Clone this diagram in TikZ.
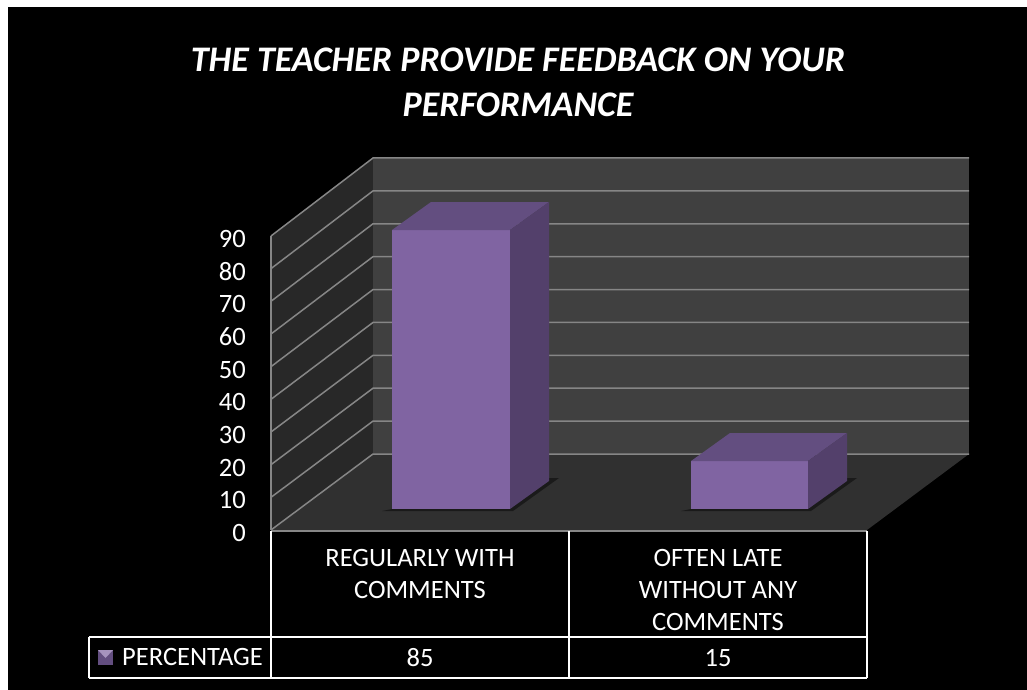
\documentclass[tikz,border=0pt]{standalone}
\usepackage{fontspec}
\setmainfont{Carlito}
\usepackage{tikz}
\usetikzlibrary{calc,positioning}

\definecolor{barfront}{HTML}{8064A2}
\definecolor{bartop}{HTML}{634E80}
\definecolor{barside}{HTML}{53406B}
\definecolor{backwall}{HTML}{404040}
\definecolor{sidewall}{HTML}{282828}
\definecolor{floorcol}{HTML}{303030}
\definecolor{gridcol}{HTML}{868686}

% one 3d column: left, right, top, bottom (pixel units)
\newcommand{\columnbox}[4]{%
	\fill[black,opacity=.45] ({#1-10},{#4+2}) -- ({#2+3},{#4+2}) -- ++(46,-33) -- ++(-12,0) -- cycle;
	\fill[barfront] (#1,#4) rectangle (#2,#3);
	\fill[bartop] (#1,#3) -- ++(39,-28) -- ++({#2-#1},0) -- (#2,#3) -- cycle;
	\fill[barside] (#2,#3) -- ++(39,-28) -- ({#2+39},{#4-28}) -- (#2,#4) -- cycle;
}

\begin{document}
\begin{tikzpicture}[x=1pt,y=-1pt,
		lbl/.style={text=white,inner sep=0pt,font=\fontsize{26.5}{32}\selectfont},
		ttl/.style={text=white,inner sep=0pt,font=\fontsize{36}{45}\selectfont\bfseries\itshape},
		gridline/.style={draw=gridcol,line width=1.5pt},
		cell/.style={draw=white,line width=2pt}]
		\useasboundingbox (0,0) rectangle (1027,690);
		\fill[white] (0,0) rectangle (1027,690);
		\fill[black] (8,7) rectangle (1027,690);
		% walls and floor
		\fill[sidewall] (271,530) -- (271,236) -- (373,158) -- (373,454) -- cycle;
		\fill[backwall] (373,454) rectangle (969,158);
		\fill[floorcol] (271,530) -- (373,454) -- (969,454) -- (867,530) -- cycle;
		\foreach \v [evaluate=\v as \t using int(10*\v)] in {0,...,9} {
			\draw[gridline] (271,{530-32.67*\v}) -- (373,{454-32.89*\v}) -- (969,{454-32.89*\v});
			\node(y\v) [lbl,anchor=east] at (246,{533-32.67*\v}) {\t};
		}
		\draw[gridline] (271,236) -- (271,530);
		\draw[gridline] (271,531) -- (867,531);
		% columns
		\columnbox{392}{510}{230}{509}
		\columnbox{691}{808}{461}{509}
		% title
		\node(1) [ttl,anchor=base] at (518,72) {THE TEACHER PROVIDE FEEDBACK ON YOUR};
		\node(2) [ttl,anchor=base] at ($(1.base)+(0,45)$) {PERFORMANCE};
		% data table
		\draw[cell] (271,531) -- (271,678);
		\draw[cell] (569,531) -- (569,678);
		\draw[cell] (867,531) -- (867,678);
		\draw[cell] (89,637) -- (867,637);
		\draw[cell] (89,678) -- (867,678);
		\draw[cell] (89,637) -- (89,678);
		\node(3) [lbl,anchor=base] at (420,566) {REGULARLY WITH};
		\node(4) [lbl,anchor=base] at ($(3.base)+(0,32)$) {COMMENTS};
		\node(5) [lbl,anchor=base] at (718,566) {OFTEN LATE};
		\node(6) [lbl,anchor=base] at ($(5.base)+(0,32)$) {WITHOUT ANY};
		\node(7) [lbl,anchor=base] at ($(6.base)+(0,32)$) {COMMENTS};
		\node(8) [lbl,anchor=base] at (420,666) {85};
		\node(9) [lbl,anchor=base] at (718,666) {15};
		% legend
		\fill[bartop] (98,650) rectangle (113,665);
		\fill[barfront!70!white] (98,650) -- (113,650) -- (105.5,658) -- cycle;
		\node(10) [lbl,anchor=base west] at (122,665) {PERCENTAGE};
	\end{tikzpicture}
\end{document}
